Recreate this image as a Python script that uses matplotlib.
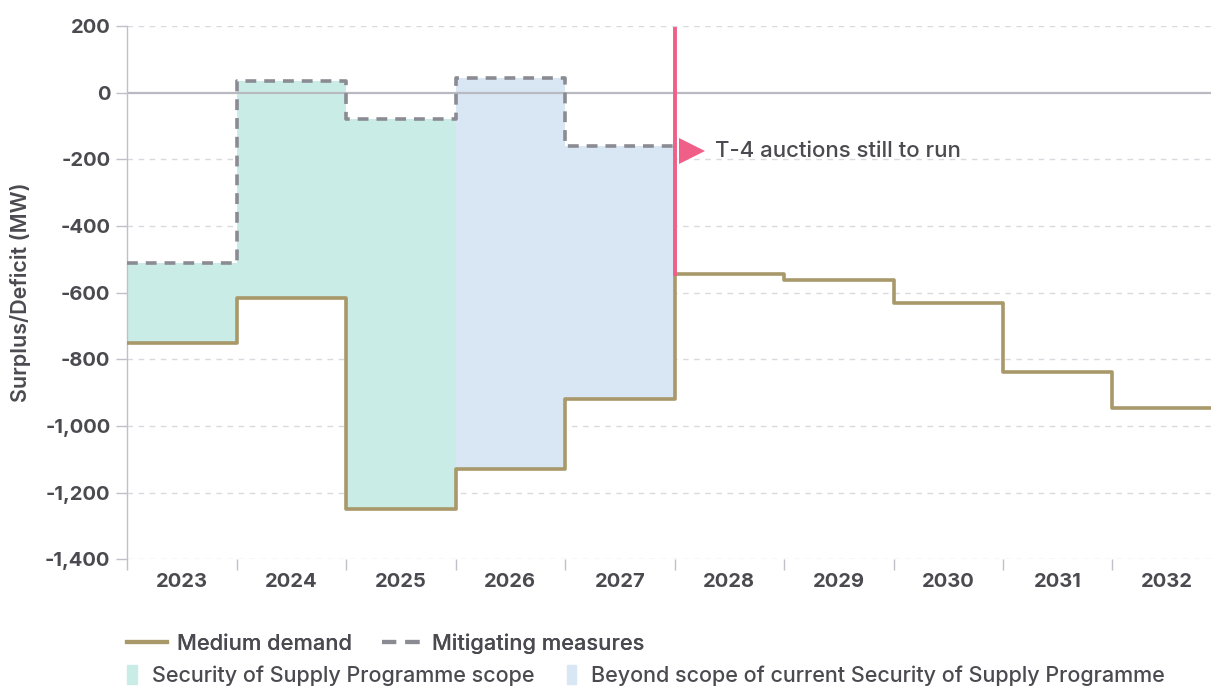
import matplotlib
matplotlib.use("Agg")
import matplotlib.pyplot as plt
import numpy as np
from matplotlib.lines import Line2D
from matplotlib.patches import Patch

years = ["2023", "2024", "2025", "2026", "2027", "2028", "2029", "2030", "2031", "2032"]
medium_demand = [-750, -615, -1248, -1128, -920, -545, -563, -632, -837, -945]
mitigating = [-510, 35, -78, 45, -160]
sosp_years = 3          # first three years are within programme scope
auction_top = 190
auction_label_y = -175

GOLD = "#a8986a"
GREY_DASH = "#8b8b93"
TEAL = "#c9ede6"
BLUE = "#d9e6f3"
PINK = "#ef5f87"
TEXT = "#4a4a50"
GRID = "#d9d9e0"

plt.rcParams['font.family'] = ['Inter', 'DejaVu Sans']

fig = plt.figure(figsize=(12.11, 6.87), dpi=100)
ax = fig.add_axes([0.105, 0.186, 0.895, 0.776])

n = len(years)
edges = np.arange(n + 1)
md_ext = medium_demand + [medium_demand[-1]]
mit_ext = mitigating + [mitigating[-1]]
m = len(mitigating)

# fills
xs = edges[:sosp_years + 1]
ax.fill_between(xs, md_ext[:sosp_years + 1], mit_ext[:sosp_years] + [mit_ext[sosp_years - 1]],
                step='post', color=TEAL, lw=0, zorder=1)
xs2 = edges[sosp_years:m + 1]
ax.fill_between(xs2, md_ext[sosp_years:m + 1][:-1] + [medium_demand[m - 1]],
                mit_ext[sosp_years:m] + [mitigating[m - 1]],
                step='post', color=BLUE, lw=0, zorder=1)

# grid
for v in range(-1400, 201, 200):
    if v == 0:
        ax.axhline(v, color="#b9b9c1", lw=1.6, zorder=2)
    else:
        ax.axhline(v, color=GRID, lw=1, ls=(0, (4, 4)), zorder=0.5)

ax.step(edges, md_ext, where='post', color=GOLD, lw=2.6, zorder=4,
        solid_joinstyle='round', solid_capstyle='butt')
ax.step(edges[:m + 1], mit_ext, where='post', color=GREY_DASH, lw=2.6,
        ls=(0, (3, 2.2)), zorder=4)

# auction line
ax.plot([m, m], [medium_demand[m], auction_top], color=PINK, lw=2.8, zorder=5)
ax.plot([m + 0.16], [auction_label_y], marker='>', color=PINK, ms=19, mew=0, zorder=5, clip_on=False)
ax.text(m + 0.37, auction_label_y, "T-4 auctions still to run", color=TEXT,
        fontsize=16, fontweight='medium', va='center', ha='left')

ax.set_xlim(0, 9.9)
ax.set_ylim(-1400, 200)
ax.set_yticks(range(-1400, 201, 200))
ax.set_yticklabels([f"{v:,}" for v in range(-1400, 201, 200)])
ax.set_xticks(edges[:-1])
ax.set_xticklabels([])
ax.set_xticks(edges[:-1] + 0.5, minor=True)
ax.set_xticklabels(years, minor=True)
ax.tick_params(axis='x', which='minor', length=0, pad=10, labelsize=14.5, labelcolor=TEXT)
ax.tick_params(axis='x', which='major', length=8, width=1, color="#c0c0c8")
ax.tick_params(axis='y', length=8, width=1, color="#c0c0c8", labelsize=14.5, labelcolor=TEXT, pad=4)
for lab in ax.get_yticklabels() + ax.get_xticklabels(minor=True):
    lab.set_fontweight('bold')

for s in ['top', 'right', 'bottom']:
    ax.spines[s].set_visible(False)
ax.spines['left'].set_color("#c0c0c8")
ax.spines['left'].set_linewidth(1)

ax.set_ylabel("Surplus/Deficit (MW)", fontsize=15.5, color=TEXT, fontweight='semibold', labelpad=10)

h1 = [Line2D([], [], color=GOLD, lw=3),
      Line2D([], [], color=GREY_DASH, lw=3, ls=(0, (3.4, 2.2)))]
leg1 = fig.legend(h1, ["Medium demand", "Mitigating measures"], loc='center left',
                  bbox_to_anchor=(0.105, 0.063), ncol=2, frameon=False,
                  handlelength=1.85, columnspacing=1.35, handletextpad=0.45,
                  borderpad=0, borderaxespad=0,
                  labelcolor=TEXT, prop={'weight': 'medium', 'size': 15.7})
h2 = [Patch(color=TEAL), Patch(color=BLUE)]
leg2 = fig.legend(h2, ["Security of Supply Programme scope",
                       "Beyond scope of current Security of Supply Programme"],
                  loc='center left', bbox_to_anchor=(0.105, 0.0165), ncol=2, frameon=False,
                  handlelength=0.45, handleheight=1.0, columnspacing=1.5,
                  handletextpad=0.7, borderpad=0, borderaxespad=0,
                  labelcolor=TEXT, prop={'weight': 'medium', 'size': 15.5})
fig.add_artist(leg1)

fig.savefig("out.png", dpi=100)
